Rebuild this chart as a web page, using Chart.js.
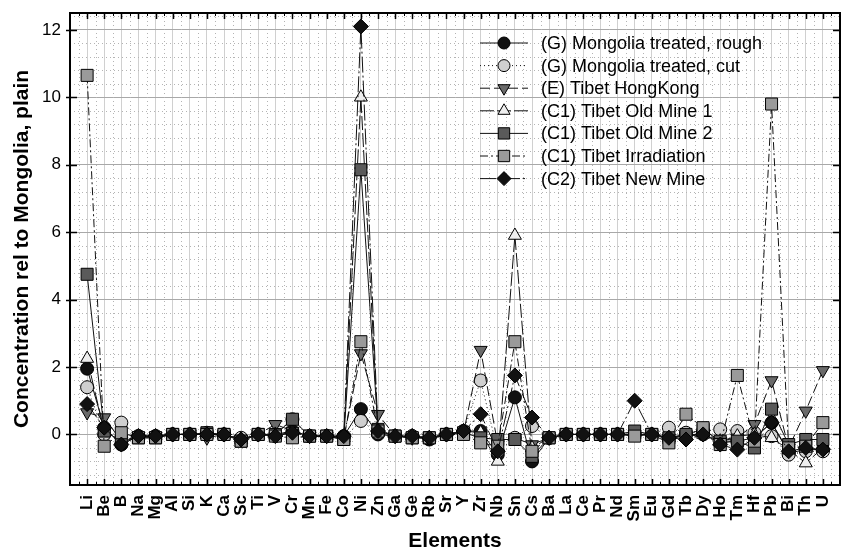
<!DOCTYPE html>
<html><head><meta charset="utf-8">
<script src="https://cdn.jsdelivr.net/npm/chart.js@4.4.0/dist/chart.umd.min.js"></script>
<style>html,body{margin:0;padding:0;background:#fff}#wrap{width:843px;height:552px}</style>
</head><body><div id="wrap"><canvas id="c" width="843" height="552"></canvas></div>
<script>
const elements = ['Li','Be','B','Na','Mg','Al','Si','K','Ca','Sc','Ti','V','Cr','Mn','Fe','Co','Ni','Zn','Ga','Ge','Rb','Sr','Y','Zr','Nb','Sn','Cs','Ba','La','Ce','Pr','Nd','Sm','Eu','Gd','Tb','Dy','Ho','Tm','Hf','Pb','Bi','Th','U'];
const yTicks = [0, 2, 4, 6, 8, 10, 12];
const seriesNames = ['(G) Mongolia treated, rough','(G) Mongolia treated, cut','(E) Tibet HongKong','(C1) Tibet Old Mine 1','(C1) Tibet Old Mine 2','(C1) Tibet Irradiation','(C2) Tibet New Mine'];
//            Li    Be    B     Na    Mg    Al    Si    K     Ca    Sc    Ti    V     Cr    Mn    Fe    Co    Ni    Zn    Ga    Ge    Rb    Sr    Y     Zr    Nb    Sn    Cs    Ba    La    Ce    Pr    Nd    Sm    Eu    Gd    Tb    Dy    Ho    Tm    Hf    Pb    Bi    Th    U
const mongoliaRough = [1.95, 0.2, -0.3, -0.05,-0.05, 0.0, 0.0, 0.0, 0.0, -0.15, 0.0, -0.05, 0.1, -0.05,-0.05,-0.05, 0.75, 0.0, -0.05,-0.05,-0.15, 0.0, 0.1, 0.1, -0.6, 1.1, -0.8, -0.1, 0.0, 0.0, 0.0, 0.0, 0.0, 0.0, -0.1, 0.0, 0.0, -0.25,-0.2, -0.1, 0.35,-0.55,-0.45,-0.45];
const mongoliaCut   = [1.4,  0.0,  0.35,-0.05,-0.05, 0.0, 0.0, 0.05, 0.0, -0.1, 0.0, 0.0, 0.45, -0.05,-0.05,-0.1, 0.4, 0.05,-0.05,-0.05,-0.1, 0.0, 0.1, 1.6, -0.5, -0.1, 0.25, -0.1, 0.0, 0.0, 0.0, 0.0, 0.0, 0.0, 0.2, 0.05, 0.1, 0.15, 0.1, 0.05,-0.05,-0.6,-0.5, -0.5];
const tibetHongKong = [0.65, 0.5, -0.2, -0.05,-0.05, 0.0, 0.0, -0.1, 0.0, -0.15, 0.0, 0.3, 0.1, -0.05,-0.05,-0.1, 2.4, 0.6, -0.05,-0.1, -0.1, 0.0, 0.05, 2.5, -0.3, -0.1, -0.3, -0.1, 0.0, 0.0, 0.0, 0.0, 0.0, 0.0, -0.1, -0.05, 0.0, -0.2, -0.1, 0.3, 1.6, -0.4, 0.7, 1.9];
const tibetOldMine1 = [2.25, 0.1, -0.2, -0.05,-0.05, 0.0, 0.0, 0.0, 0.0, -0.15, 0.0, 0.0, 0.1, -0.05,-0.05,-0.1, 10.0, 0.1, -0.05,-0.05,-0.1, 0.0, 0.1, 0.05, -0.8, 5.9, -0.4, -0.1, 0.0, 0.0, 0.0, 0.0, 0.0, 0.0, -0.1, -0.05, 0.0, -0.2, -0.05, 0.0, -0.1, -0.45,-0.85,-0.4];
const tibetOldMine2 = [4.75, 0.1, -0.2, -0.1, -0.1, 0.0, 0.0, 0.05, 0.0, -0.2, 0.0, 0.0, 0.45, -0.05,-0.05,-0.15, 7.85, 0.15,-0.05,-0.1, -0.1, 0.0, 0.05, -0.1, -0.15, -0.15,-0.65,-0.1, 0.0, 0.0, 0.0, 0.0, 0.1, 0.0, -0.1, 0.0, 0.15, -0.2, -0.2, -0.4, 0.75, -0.3, -0.15,-0.15];
const tibetIrradiation = [10.65,-0.35, 0.05,-0.1, -0.1, 0.0, 0.0, 0.0, 0.0, -0.2, 0.0, -0.05,-0.1, -0.05,-0.05,-0.15, 2.75, 0.1, -0.05,-0.1, -0.1, 0.0, 0.0, -0.25,-0.35, 2.75, -0.5, -0.1, 0.0, 0.0, 0.0, 0.0, -0.05, 0.0, -0.25, 0.6, 0.2, -0.3, 1.75, -0.2, 9.8, -0.4, -0.35, 0.35];
const tibetNewMine  = [0.9,  0.2, -0.3, -0.05,-0.05, 0.0, 0.0, 0.0, 0.0, -0.15, 0.0, -0.05, 0.05,-0.05,-0.05,-0.05,12.1, 0.1, -0.05,-0.05,-0.1, 0.0, 0.1, 0.6, -0.5, 1.75, 0.5, -0.1, 0.0, 0.0, 0.0, 0.0, 1.0, 0.0, -0.1, -0.15, 0.0, -0.3, -0.45, -0.1, 0.35, -0.5, -0.4, -0.45];

const seriesValues = [mongoliaRough, mongoliaCut, tibetHongKong, tibetOldMine1, tibetOldMine2, tibetIrradiation, tibetNewMine];
const styles = [
  {fill:'#111111', shape:'circle',   rot:0,   r:6.5, dash:[]},
  {fill:'#cfcfcf', shape:'circle',   rot:0,   r:6.5, dash:[1,3]},
  {fill:'#6a6a6a', shape:'triangle', rot:180, r:7.5, dash:[10,4]},
  {fill:'#eeeeee', shape:'triangle', rot:0,   r:7.5, dash:[14,3]},
  {fill:'#5a5a5a', shape:'rect',     rot:0,   r:8.5, dash:[]},
  {fill:'#9a9a9a', shape:'rect',     rot:0,   r:8.5, dash:[8,3,2,3]},
  {fill:'#111111', shape:'rectRot',  rot:0,   r:7.5, dash:[16,3,2,3]}
];
const FONT = "'Liberation Sans', Arial, Helvetica, sans-serif";
const AREA = {left: 70, right: 840, top: 13, bottom: 485};

const datasets = seriesValues.map((vals, i) => ({
  label: seriesNames[i],
  data: vals.map((v, k) => ({x: k, y: v})),
  borderColor: '#111',
  borderWidth: 1,
  borderDash: styles[i].dash,
  pointStyle: styles[i].shape,
  pointRotation: styles[i].rot,
  pointRadius: styles[i].r,
  pointBackgroundColor: styles[i].fill,
  pointBorderColor: '#000',
  pointBorderWidth: 1,
  tension: 0,
  fill: false,
  order: 7 - i
}));

const fixArea = {
  id: 'fixArea',
  afterLayout(chart) {
    const ca = chart.chartArea;
    Object.assign(ca, AREA);
    ca.width = AREA.right - AREA.left;
    ca.height = AREA.bottom - AREA.top;
    const {x, y} = chart.scales;
    x.left = AREA.left; x.right = AREA.right; x.width = ca.width;
    x.top = AREA.bottom; x.bottom = 552; x.height = 552 - AREA.bottom;
    y.top = AREA.top; y.bottom = AREA.bottom; y.height = ca.height;
    y.left = 0; y.right = AREA.left; y.width = AREA.left;
    x.configure(); y.configure();
  }
};

const decor = {
  id: 'decor',
  beforeDatasetsDraw(chart) {
    const {ctx, chartArea: a, scales: {x, y}} = chart;
    ctx.save();
    ctx.strokeStyle = '#b4b4b4';
    ctx.lineWidth = 1;
    ctx.setLineDash([1, 3]);
    for (let k = -1; k < elements.length; k++) {
      const px = Math.round(x.getPixelForValue(k + 0.5)) + 0.5;
      ctx.beginPath(); ctx.moveTo(px, a.top); ctx.lineTo(px, a.bottom); ctx.stroke();
    }
    for (let v = -1.2; v < 12.5; v += 0.4) {
      const r = Math.round(v * 10) / 10;
      if (Math.abs(r / 2 - Math.round(r / 2)) < 1e-6) continue;
      const py = Math.round(y.getPixelForValue(r)) + 0.5;
      ctx.beginPath(); ctx.moveTo(a.left, py); ctx.lineTo(a.right, py); ctx.stroke();
    }
    ctx.restore();
  },
  afterDraw(chart) {
    const {ctx, chartArea: a, scales: {x, y}} = chart;
    ctx.save();
    ctx.strokeStyle = '#000';
    ctx.setLineDash([]);
    ctx.lineWidth = 1.5;
    for (let k = 0; k < elements.length; k++) {
      const px = Math.round(x.getPixelForValue(k)) + 0.5;
      ctx.beginPath();
      ctx.moveTo(px, a.top); ctx.lineTo(px, a.top + 6);
      ctx.moveTo(px, a.bottom); ctx.lineTo(px, a.bottom - 6);
      ctx.stroke();
    }
    ctx.lineWidth = 1;
    for (let k = -1; k < elements.length; k++) {
      const px = Math.round(x.getPixelForValue(k + 0.5)) + 0.5;
      ctx.beginPath();
      ctx.moveTo(px, a.top); ctx.lineTo(px, a.top + 3);
      ctx.moveTo(px, a.bottom); ctx.lineTo(px, a.bottom - 3);
      ctx.stroke();
    }
    ctx.lineWidth = 1.5;
    yTicks.forEach(v => {
      const py = Math.round(y.getPixelForValue(v)) + 0.5;
      ctx.beginPath();
      ctx.moveTo(a.left - 4, py); ctx.lineTo(a.left + 7, py);
      ctx.moveTo(a.right, py); ctx.lineTo(a.right - 7, py);
      ctx.stroke();
    });
    ctx.lineWidth = 2;
    ctx.strokeRect(a.left, a.top, a.right - a.left, a.bottom - a.top);
    ctx.fillStyle = '#000';
    ctx.font = "bold 21px " + FONT;
    ctx.textAlign = 'center';
    ctx.textBaseline = 'middle';
    ctx.fillText('Elements', (a.left + a.right) / 2, 541);
    ctx.save();
    ctx.translate(22, (a.top + a.bottom) / 2);
    ctx.rotate(-Math.PI / 2);
    ctx.fillText('Concentration rel to Mongolia, plain', 0, 0);
    ctx.restore();
    ctx.font = "18px " + FONT;
    ctx.textAlign = 'left';
    chart.data.datasets.forEach((ds, i) => {
      const ly = 43 + i * 22.6;
      ctx.strokeStyle = '#111';
      ctx.lineWidth = 1;
      ctx.setLineDash(ds.borderDash);
      ctx.beginPath(); ctx.moveTo(480, ly); ctx.lineTo(528, ly); ctx.stroke();
      ctx.setLineDash([]);
      ctx.fillStyle = ds.pointBackgroundColor;
      ctx.strokeStyle = '#000';
      Chart.helpers.drawPoint(ctx, {pointStyle: ds.pointStyle, rotation: ds.pointRotation, radius: ds.pointRadius - 0.5, borderWidth: 1}, 504, ly);
      ctx.fillStyle = '#000';
      ctx.fillText(ds.label, 541, ly + 1);
    });
    ctx.restore();
  }
};

new Chart(document.getElementById('c'), {
  type: 'line',
  data: {datasets},
  options: {
    responsive: false,
    devicePixelRatio: 1,
    animation: false,
    layout: {padding: {top: 13, right: 3, left: 0, bottom: 0}},
    plugins: {legend: {display: false}, tooltip: {enabled: false}},
    scales: {
      x: {
        type: 'linear', min: -1, max: 44,
        afterBuildTicks: s => { s.ticks = elements.map((_, k) => ({value: k})); },
        afterFit: s => { s.height = 67; },
        ticks: {autoSkip: false, minRotation: 90, maxRotation: 90, padding: 10, color: '#000',
          font: {family: FONT, size: 17, weight: 'bold'},
          callback: v => elements[v] || ''},
        grid: {color: '#d0d0d0', lineWidth: 1, drawTicks: false},
        border: {display: false}
      },
      y: {
        type: 'linear', min: -1.5, max: 12.5,
        afterBuildTicks: s => { s.ticks = yTicks.map(v => ({value: v})); },
        afterFit: s => { s.width = 70; },
        ticks: {padding: 9, color: '#000', font: {family: FONT, size: 17}},
        grid: {color: '#a8a8a8', lineWidth: 1, drawTicks: false},
        border: {display: false}
      }
    }
  },
  plugins: [fixArea, decor]
});
</script></body></html>
